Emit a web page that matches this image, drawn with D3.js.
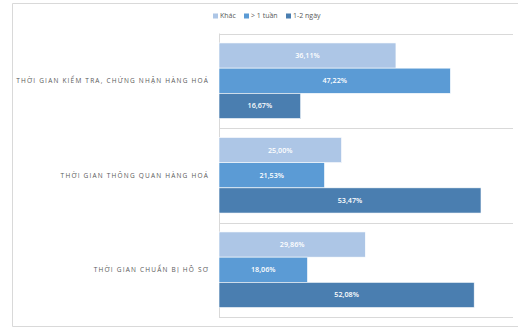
<!DOCTYPE html>
<html>
<head>
<meta charset="utf-8">
<script src="https://cdn.jsdelivr.net/npm/d3@7"></script>
<style>
  html, body { margin: 0; padding: 0; background: #fff; }
  svg { display: block; }
</style>
</head>
<body>
<svg id="chart" width="518" height="327"></svg>
<script>
// Categories, top to bottom
const categories = [
  "THỜI GIAN KIỂM TRA, CHỨNG NHẬN HÀNG HOÁ",
  "THỜI GIAN THÔNG QUAN HÀNG HOÁ",
  "THỜI GIAN CHUẨN BỊ HỒ SƠ"
];
const seriesNames = ["Khác", "> 1 tuần", "1-2 ngày"];
const khac    = [36.11, 25.00, 29.86];
const tren1Tuan = [47.22, 21.53, 18.06];
const mot2Ngay  = [16.67, 53.47, 52.08];
const seriesValues = [khac, tren1Tuan, mot2Ngay];
const colors = ["#adc6e6", "#5b9bd5", "#4a7eb0"];

const svg = d3.select("#chart");
const W = 518, H = 327;

// outer frame
svg.append("path")
  .attr("d", `M${W},3.5 H12.5 V326.5 H${W}`)
  .attr("fill", "none").attr("stroke", "#d9d9d9").attr("stroke-width", 1);

const plot = { left: 219, right: 513, top: 33.5, bottom: 317 };

const x = d3.scaleLinear().domain([0, 60]).range([plot.left, plot.right]);
const y0 = d3.scaleBand().domain(categories).range([plot.top, plot.bottom]).paddingInner(0).paddingOuter(0);
const y1 = d3.scaleBand().domain(seriesNames).range([0, y0.bandwidth()]).paddingInner(0).paddingOuter(0.375);

// group separators (horizontal gridlines)
const lines = [plot.top].concat(categories.map(c => y0(c) + y0.bandwidth()));
svg.append("g").selectAll("line").data(lines).join("line")
  .attr("x1", plot.left).attr("x2", plot.right)
  .attr("y1", d => Math.round(d) + 0.5).attr("y2", d => Math.round(d) + 0.5)
  .attr("stroke", "#d9d9d9").attr("stroke-width", 1);

// vertical category axis line
svg.append("line")
  .attr("x1", plot.left + 0.5).attr("x2", plot.left + 0.5)
  .attr("y1", plot.top).attr("y2", plot.bottom)
  .attr("stroke", "#d9d9d9");

// bars
const rows = [];
categories.forEach((c, i) => {
  seriesNames.forEach((s, j) => {
    rows.push({ cat: c, series: s, value: seriesValues[j][i], color: colors[j] });
  });
});

const bars = svg.append("g");
bars.selectAll("rect").data(rows).join("rect")
  .attr("x", x(0))
  .attr("y", d => y0(d.cat) + y1(d.series))
  .attr("width", d => x(d.value) - x(0))
  .attr("height", y1.bandwidth())
  .attr("fill", d => d.color)
  .attr("stroke", "#ffffff").attr("stroke-width", 0.6);

const fmt = v => v.toFixed(2).replace(".", ",") + "%";
bars.selectAll("text").data(rows).join("text")
  .attr("x", d => (x(0) + x(d.value)) / 2)
  .attr("y", d => y0(d.cat) + y1(d.series) + y1.bandwidth() / 2)
  .attr("dy", "0.35em")
  .attr("text-anchor", "middle")
  .attr("font-family", "'Open Sans', sans-serif")
  .attr("font-size", 7.2)
  .attr("font-weight", 600)
  .attr("fill", "#ffffff")
  .text(d => fmt(d.value));

// category labels
svg.append("g").selectAll("text").data(categories).join("text")
  .attr("x", 209)
  .attr("y", d => y0(d) + y0.bandwidth() / 2)
  .attr("dy", "0.35em")
  .attr("text-anchor", "end")
  .attr("font-family", "'Open Sans', sans-serif")
  .attr("font-size", 6.5)
  .attr("letter-spacing", 1.2)
  .attr("fill", "#595959")
  .text(d => d);

// legend
const legendX = [213, 244, 286];
const legend = svg.append("g").selectAll("g").data(seriesNames).join("g")
  .attr("transform", (d, i) => `translate(${legendX[i]},16)`);
legend.append("rect")
  .attr("x", 0).attr("y", -2.5).attr("width", 5).attr("height", 5)
  .attr("fill", (d, i) => colors[i]);
legend.append("text")
  .attr("x", 7).attr("y", 0).attr("dy", "0.35em")
  .attr("font-family", "'Open Sans', sans-serif")
  .attr("font-size", 7)
  .attr("fill", "#595959")
  .text(d => d);
</script>
</body>
</html>
